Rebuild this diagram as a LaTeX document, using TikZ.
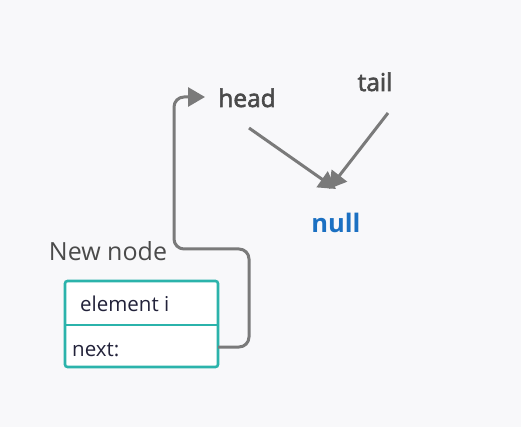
\documentclass[tikz,border=0pt]{standalone}
\usepackage{fontspec}
\setmainfont{Open Sans}
\newfontfamily\semib{Open Sans}[FakeBold=2.5]
\usetikzlibrary{arrows.meta}
\definecolor{bg}{HTML}{F8F8FA}
\definecolor{teal}{HTML}{2BB3AB}
\definecolor{linegray}{HTML}{7A7A7A}
\definecolor{txtgray}{HTML}{4A4A4A}
\definecolor{navy}{HTML}{22223A}
\definecolor{nullblue}{HTML}{1B70C2}
\tikzset{
  conn/.style={draw=linegray, line width=3pt, -{Triangle[length=17pt,width=19pt]}},
  label/.style={text=txtgray, font=\fontsize{25}{30}\selectfont, inner sep=0pt, anchor=base},
  celltext/.style={text=navy, font=\fontsize{20.5}{24}\selectfont, inner sep=0pt, anchor=base west},
}
\begin{document}
\begin{tikzpicture}[x=1pt,y=-1pt]
\fill[bg] (0,0) rectangle (521,427);
\useasboundingbox (0,0) rectangle (521,427);
% box
\filldraw[draw=teal, fill=white, line width=2.6pt, rounded corners=2.5pt] (65,281) rectangle (218,367);
\draw[teal, line width=2.6pt] (65,325) -- (218,325);
\node (box) at (141.5,324) [minimum width=153pt, minimum height=86pt, inner sep=0pt] {};
\coordinate (nextout) at (218,347);
\node[celltext] (elem) at (80,311) {element i};
\node[celltext] (nxt) at (72,356) {next:};
\node[label] (newnode) at (108,261) {New node};
\node[label, font=\fontsize{24.5}{30}\semib] (head) at (247,107) {head};
\node[label, font=\fontsize{24.5}{30}\semib] (tail) at (375,91) {tail};
\node[text=nullblue, font=\fontsize{25.5}{30}\selectfont\bfseries, inner sep=0pt, anchor=base] (null) at (336,233) {null};
\coordinate (hin) at (205,97);
% connectors
\draw[conn, rounded corners=10pt] (nextout) -- (249,347) -- (249,249) -- (174,249) -- (174,97) -- (hin);
\coordinate (hs) at (249,128);
\coordinate (ts) at (388,113);
\draw[conn] (hs) -- (336,189);
\draw[conn] (ts) -- (329,189);
\end{tikzpicture}
\end{document}
